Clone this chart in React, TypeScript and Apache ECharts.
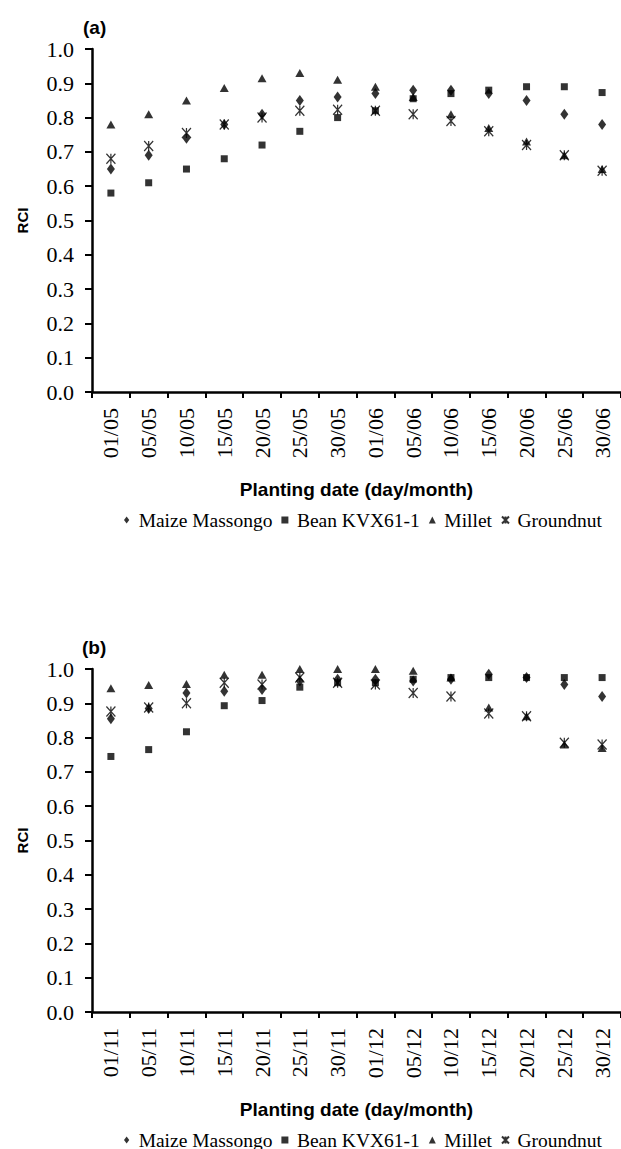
import React, { useEffect, useRef } from "react";
import * as echarts from "echarts";

const categoriesA = ["01/05", "05/05", "10/05", "15/05", "20/05", "25/05", "30/05", "01/06", "05/06", "10/06", "15/06", "20/06", "25/06", "30/06"];
const categoriesB = ["01/11", "05/11", "10/11", "15/11", "20/11", "25/11", "30/11", "01/12", "05/12", "10/12", "15/12", "20/12", "25/12", "30/12"];

const seriesNames = ["Maize Massongo", "Bean KVX61-1", "Millet", "Groundnut"];

const maizeA = [0.65, 0.69, 0.74, 0.78, 0.81, 0.85, 0.86, 0.87, 0.88, 0.88, 0.87, 0.85, 0.81, 0.78];
const beanA = [0.58, 0.61, 0.65, 0.68, 0.72, 0.76, 0.80, 0.82, 0.855, 0.87, 0.88, 0.89, 0.89, 0.873];
const milletA = [0.78, 0.81, 0.85, 0.886, 0.915, 0.93, 0.91, 0.89, 0.86, 0.81, 0.77, 0.73, 0.69, 0.65];
const groundnutA = [0.68, 0.717, 0.755, 0.78, 0.80, 0.82, 0.823, 0.82, 0.81, 0.79, 0.76, 0.72, 0.69, 0.645];

const maizeB = [0.855, 0.885, 0.93, 0.935, 0.94, 0.965, 0.97, 0.97, 0.965, 0.97, 0.985, 0.975, 0.955, 0.92];
const beanB = [0.745, 0.765, 0.817, 0.893, 0.908, 0.947, 0.96, 0.96, 0.97, 0.975, 0.975, 0.975, 0.975, 0.975];
const milletB = [0.944, 0.953, 0.956, 0.983, 0.983, 1.0, 1.0, 1.0, 0.995, 0.975, 0.888, 0.862, 0.78, 0.77];
const groundnutB = [0.876, 0.888, 0.9, 0.96, 0.955, 0.975, 0.96, 0.955, 0.93, 0.92, 0.87, 0.862, 0.785, 0.78];

const asteriskPath = "path://M0,0L10,10M10,0L0,10M5,0L5,10";
const diamondIcon = "path://M3,0L6,4L3,8L0,4Z";
const squareIcon = "path://M0,0L6,0L6,6L0,6Z";
const triangleIcon = "path://M3.5,0L7,7L0,7Z";

const SERIF = "'Liberation Serif', 'Times New Roman', serif";
const SANS = "'Liberation Sans', Arial, sans-serif";

function makeSeries(gridIdx: number, data: number[][]) {
  const [m, b, mi, g] = data;
  return [
    { type: "scatter", name: seriesNames[0], xAxisIndex: gridIdx, yAxisIndex: gridIdx, data: m, symbol: "diamond", symbolSize: [8, 11], itemStyle: { color: "#000" } },
    { type: "scatter", name: seriesNames[1], xAxisIndex: gridIdx, yAxisIndex: gridIdx, data: b, symbol: "rect", symbolSize: 7, itemStyle: { color: "#000" } },
    { type: "scatter", name: seriesNames[2], xAxisIndex: gridIdx, yAxisIndex: gridIdx, data: mi, symbol: "triangle", symbolSize: [9, 8], itemStyle: { color: "#000" } },
    { type: "scatter", name: seriesNames[3], xAxisIndex: gridIdx, yAxisIndex: gridIdx, data: g, symbol: asteriskPath, symbolSize: [9, 10], itemStyle: { color: "#000", borderColor: "#000", borderWidth: 1.3 } },
  ];
}

function makeXAxis(gridIndex: number, cats: string[]) {
  return {
    type: "category",
    gridIndex,
    data: cats,
    boundaryGap: true,
    axisLine: { show: true, lineStyle: { color: "#000", width: 2.5 } },
    axisTick: { show: true, length: 6, lineStyle: { color: "#000", width: 2 } },
    axisLabel: { rotate: 90, interval: 0, margin: 16, fontFamily: SERIF, fontSize: 22, color: "#000", textStyle: { fontFamily: SERIF, fontSize: 22 } },
    splitLine: { show: false },
    name: "Planting date (day/month)",
    nameLocation: "middle",
    nameGap: 88,
    nameTextStyle: { fontFamily: SANS, fontWeight: "bold", fontSize: 19, color: "#000" },
  };
}

function makeYAxis(gridIndex: number) {
  return {
    type: "value",
    gridIndex,
    min: 0,
    max: 1,
    interval: 0.1,
    axisLine: { show: true, lineStyle: { color: "#000", width: 2.5 } },
    axisTick: { show: true, length: 7, lineStyle: { color: "#000", width: 2 } },
    axisLabel: { margin: 18, fontFamily: SERIF, fontSize: 22, color: "#000", formatter: (v: number) => v.toFixed(1) },
    splitLine: { show: false },
    name: "RCI",
    nameLocation: "middle",
    nameRotate: 90,
    nameGap: 62,
    nameTextStyle: { fontFamily: SANS, fontWeight: "bold", fontSize: 15, color: "#000" },
  };
}

function makeLegend(top: number) {
  return {
    top,
    left: 124,
    padding: 0,
    itemWidth: 14,
    itemHeight: 7,
    itemGap: 9,
    symbolKeepAspect: true,
    textStyle: { fontFamily: SERIF, fontSize: 19.5, color: "#000" },
    data: [
      { name: seriesNames[0], icon: diamondIcon },
      { name: seriesNames[1], icon: squareIcon },
      { name: seriesNames[2], icon: triangleIcon },
      { name: seriesNames[3], icon: asteriskPath },
    ],
  };
}

export default function App() {
  const ref = useRef<HTMLDivElement>(null);
  useEffect(() => {
    if (!ref.current) return;
    const chart = echarts.init(ref.current, undefined, { renderer: "svg" });
    chart.setOption({
      animation: false,
      backgroundColor: "#fff",
      textStyle: { fontFamily: SERIF },
      graphic: [
        { type: "text", x: 83, y: 27, style: { text: "(a)", font: `bold 19px ${SANS}`, fill: "#000", verticalAlign: "middle" } },
        { type: "text", x: 82, y: 647, style: { text: "(b)", font: `bold 19px ${SANS}`, fill: "#000", verticalAlign: "middle" } },
      ],
      grid: [
        { left: 92, top: 49, width: 539, height: 343 },
        { left: 92, top: 669, width: 539, height: 343 },
      ],
      xAxis: [makeXAxis(0, categoriesA), makeXAxis(1, categoriesB)],
      yAxis: [makeYAxis(0), makeYAxis(1)],
      legend: [makeLegend(510), makeLegend(1130)],
      series: [
        ...makeSeries(0, [maizeA, beanA, milletA, groundnutA]),
        ...makeSeries(1, [maizeB, beanB, milletB, groundnutB]),
      ],
    });
    return () => chart.dispose();
  }, []);
  return <div ref={ref} style={{ position: "absolute", left: 0, top: 0, width: 621, height: 1149 }} />;
}
